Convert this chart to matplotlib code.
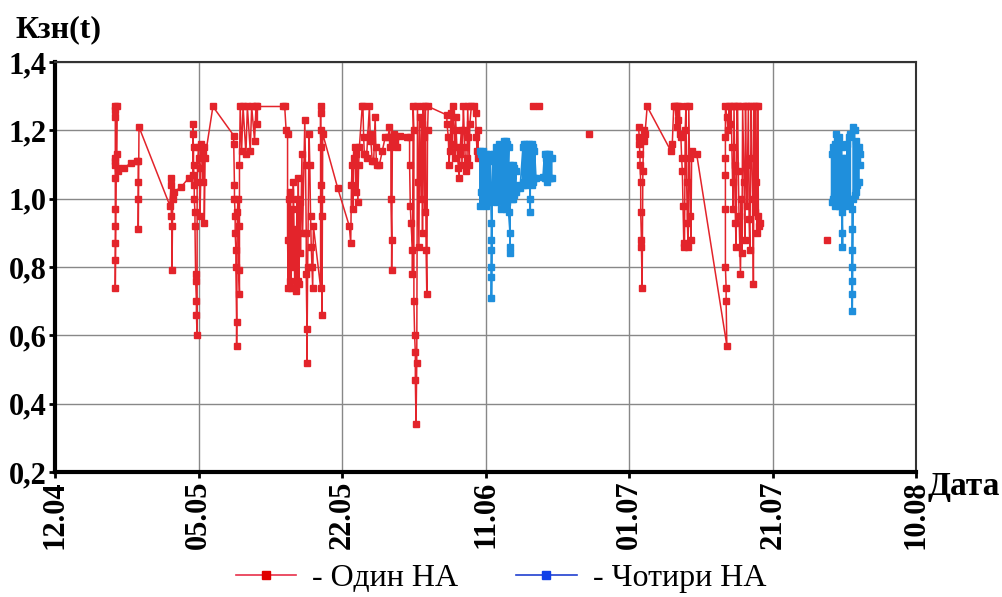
import numpy as np
import matplotlib.pyplot as plt
from matplotlib.lines import Line2D

plt.rcParams['font.family'] = ['Liberation Serif', 'DejaVu Serif']

# ----------------- data (x in tick-interval units, 0 = 12.04) -----------------
date_labels = ['12.04', '05.05', '22.05', '11.06', '01.07', '21.07', '10.08']
nan = np.nan

# один НА (one unit)
red_x = [0.42, 0.42, 0.42, 0.42, 0.42, 0.42, 0.42, 0.42, 0.42, 0.42, 0.42, 0.42,
         0.43, 0.43, 0.44, 0.44, 0.48, 0.53, 0.57,
         0.58, 0.58, 0.58, 0.58, 0.585, 0.80, 0.81, 0.81, 0.81, 0.815, 0.815, 0.82,
         0.83, 0.88, 0.93, 0.96,
         0.96, 0.96, 0.965, 0.965, 0.97, 0.97, 0.975, 0.975, 0.98, 0.98, 0.985, 0.985,
         0.99, 0.99, 1.0, 1.0, 1.01, 1.01, 1.02, 1.03, 1.03, 1.04, 1.04, 1.045,
         1.10, 1.245,
         1.245, 1.25, 1.25, 1.255, 1.255, 1.26, 1.26, 1.265, 1.265, 1.27, 1.275, 1.28,
         1.28, 1.285, 1.285, 1.29,
         1.30, 1.31, 1.33, 1.34, 1.36, 1.37, 1.39, 1.40, 1.41, 1.41, 1.59,
         1.60, 1.61, 1.62, 1.62, 1.625, 1.63, 1.635, 1.64, 1.645, 1.65, 1.66, 1.66,
         1.67, 1.675, 1.68, 1.685, 1.69, 1.695, 1.70, 1.705, 1.71, 1.72, 1.725,
         1.74, 1.745, 1.75, 1.75, 1.755, 1.755, 1.76, 1.77, 1.775, 1.78, 1.785, 1.79,
         1.795, 1.80, 1.85,
         1.85, 1.85, 1.85, 1.855, 1.855, 1.855, 1.86, 1.86, 1.865, 1.97, 2.05,
         2.06, 2.065, 2.07, 2.075, 2.08, 2.09, 2.095, 2.10, 2.11, 2.115, 2.12,
         2.14, 2.145, 2.15, 2.155, 2.16, 2.17, 2.19, 2.195, 2.20, 2.21, 2.22, 2.23,
         2.235, 2.24, 2.26, 2.28, 2.30, 2.32,
         2.33, 2.335, 2.34, 2.34, 2.345, 2.345, 2.35, 2.36, 2.37, 2.38, 2.40, 2.45,
         2.47, 2.47, 2.475, 2.48, 2.49, 2.49, 2.495, 2.50, 2.50, 2.505, 2.51, 2.51,
         2.515, 2.52, 2.525, 2.53, 2.535, 2.54, 2.55, 2.555, 2.56, 2.565, 2.57, 2.575,
         2.58, 2.585, 2.59, 2.595, 2.60, 2.73,
         2.73, 2.74, 2.745, 2.75, 2.76, 2.765, 2.77, 2.78, 2.785, 2.79, 2.80, 2.81,
         2.815, 2.82, 2.83, 2.835, 2.845, 2.85, 2.855, 2.86, 2.87, 2.875, 2.88, 2.885,
         2.89, 2.90, 2.92, 2.93, 2.935, 2.94, 2.945, 2.95,
         nan, 3.33, 3.37, nan, 3.72, nan,
         4.065, 4.07, 4.07, 4.075, 4.075, 4.08, 4.08, 4.085, 4.085, 4.09, 4.095, 4.10,
         4.105, 4.11, 4.125, 4.29, 4.30, 4.31,
         4.32, 4.33, 4.335, 4.34, 4.35, 4.355, 4.36, 4.365, 4.37, 4.375, 4.38, 4.385,
         4.39, 4.395, 4.40, 4.405, 4.41, 4.415, 4.42, 4.425, 4.43, 4.435, 4.47,
         4.68, 4.675, 4.675, 4.67, 4.67, 4.67, 4.67, 4.67, 4.67, 4.68, 4.69, 4.695,
         4.70, 4.71, 4.715, 4.72, 4.725, 4.73, 4.735, 4.74, 4.745, 4.75, 4.755, 4.76,
         4.765, 4.775, 4.78, 4.785, 4.79, 4.80, 4.805, 4.81, 4.815, 4.82, 4.83, 4.835,
         4.84, 4.85, 4.855, 4.86, 4.865, 4.87, 4.875, 4.88, 4.885, 4.89, 4.895, 4.90,
         4.905, 4.91,
         nan, 5.38]
red_y = [1.27, 1.26, 1.24, 1.12, 1.11, 1.10, 1.06, 0.97, 0.92, 0.87, 0.82, 0.74,
         1.27, 1.13, 1.09, 1.08, 1.09, 1.105, 1.11,
         1.11, 1.05, 1.00, 0.91, 1.21, 0.98, 1.06, 1.04, 0.95, 0.92, 0.79, 1.00,
         1.02, 1.035, 1.06, 1.07,
         1.22, 1.19, 1.15, 1.10, 1.04, 1.00, 0.96, 0.92, 0.78, 0.76, 0.70, 0.66,
         0.60, 1.05, 1.15, 1.12, 1.09, 0.95, 1.16, 1.13, 1.05, 1.15, 0.93, 1.12,
         1.27, 1.185,
         1.16, 1.04, 1.00, 0.95, 0.90, 0.85, 0.80, 0.64, 0.57, 0.96, 1.00, 0.92,
         0.79, 0.72, 1.10, 1.27,
         1.14, 1.27, 1.13, 1.27, 1.14, 1.27, 1.17, 1.27, 1.22, 1.27, 1.27,
         1.27, 1.20, 1.19, 0.88, 0.74, 1.00, 0.76, 1.02, 0.74, 0.97, 0.80, 1.05,
         0.74, 0.91, 0.73, 1.00, 0.76, 1.06, 0.75, 0.99, 0.84, 1.13, 0.90,
         1.23, 1.10, 0.90, 0.78, 0.62, 0.52, 0.80, 1.19, 1.10, 0.95, 0.86, 0.80,
         0.74, 0.92, 0.74,
         1.27, 1.25, 1.20, 1.15, 1.04, 1.00, 0.95, 0.66, 1.19, 1.03, 0.92,
         0.87, 1.04, 1.10, 0.97, 1.12, 1.15, 1.02, 1.13, 0.99, 1.10, 1.15,
         1.27, 1.27, 1.18, 1.13, 1.13, 1.12, 1.27, 1.19, 1.17, 1.11, 1.11, 1.24,
         1.15, 1.10, 1.10, 1.14, 1.18, 1.18,
         1.21, 1.15, 1.18, 1.00, 0.88, 0.79, 1.16, 1.19, 1.17, 1.15, 1.185, 1.18,
         1.18, 1.10, 0.98, 0.93, 0.85, 0.78, 1.27, 1.20, 0.70, 0.60, 0.55, 0.47,
         0.34, 0.52, 1.27, 1.05, 0.86, 1.24, 1.00, 1.22, 0.90, 1.27, 1.18, 0.96,
         1.27, 0.85, 0.72, 1.20, 1.27, 1.245,
         1.22, 1.18, 1.10, 1.14, 1.25, 1.16, 1.27, 1.20, 1.12, 1.24, 1.15, 1.09,
         1.06, 1.13, 1.20, 1.10, 1.27, 1.20, 1.15, 1.08, 1.12, 1.27, 1.18, 1.10,
         1.22, 1.27, 1.27, 1.25, 1.18, 1.14, 1.20, 1.12,
         nan, 1.27, 1.27, nan, 1.19, nan,
         1.21, 1.18, 1.16, 1.13, 1.10, 1.05, 0.96, 0.88, 0.86, 0.74, 1.08, 1.17,
         1.20, 1.19, 1.27, 1.14, 1.16, 1.27,
         1.27, 1.21, 1.27, 1.23, 1.27, 1.19, 1.18, 1.12, 1.08, 0.98, 0.87, 0.86,
         1.20, 1.27, 1.05, 0.93, 0.86, 1.27, 1.12, 0.95, 0.88, 1.14, 1.13,
         0.57, 0.70, 0.74, 0.80, 0.97, 1.07, 1.12, 1.18, 1.27, 1.24, 1.20, 1.27,
         1.22, 1.27, 1.15, 1.05, 0.97, 1.27, 1.10, 0.93, 0.86, 1.27, 1.27, 1.08,
         0.95, 0.78, 1.00, 0.84, 1.27, 1.05, 0.88, 1.27, 1.10, 0.98, 1.27, 0.94,
         0.85, 1.27, 1.12, 1.00, 0.75, 1.27, 0.96, 1.27, 1.05, 0.90, 1.27, 0.95,
         0.92, 0.93,
         nan, 0.88]

# чотири НА (four units)
blue_x = [2.96, 2.96, 2.97, 2.97, 2.98, 2.98, 2.99, 2.99, 3.00, 3.00, 3.01, 3.01,
          3.02, 3.02, 3.03, 3.03,
          3.04, 3.04, 3.04, 3.04, 3.04, 3.04, 3.045,
          3.05, 3.05, 3.06, 3.06, 3.07, 3.07, 3.08, 3.08, 3.09, 3.09, 3.10, 3.10,
          3.11, 3.11, 3.12, 3.12, 3.13, 3.13, 3.14, 3.14, 3.15, 3.15, 3.16, 3.16,
          3.17, 3.17, 3.17, 3.17, 3.18, 3.18, 3.19, 3.19, 3.20, 3.20, 3.21, 3.21,
          3.22, 3.22, 3.24,
          3.26, 3.26, 3.27, 3.27, 3.28, 3.28, 3.29, 3.29, 3.30, 3.30, 3.31, 3.31,
          3.31, 3.32, 3.32, 3.33, 3.33, 3.34, 3.34, 3.35, 3.40,
          3.41, 3.41, 3.42, 3.42, 3.43, 3.43, 3.44, 3.44, 3.45, 3.45, 3.46, 3.46,
          nan,
          5.41, 5.41, 5.42, 5.42, 5.43, 5.43, 5.44, 5.44, 5.45, 5.45, 5.46, 5.46,
          5.47, 5.47, 5.48, 5.48, 5.485, 5.485, 5.485, 5.49, 5.49, 5.50, 5.50,
          5.51, 5.51, 5.52, 5.52, 5.53, 5.53, 5.54, 5.54,
          5.553, 5.553, 5.553, 5.553, 5.553, 5.553, 5.553,
          5.56, 5.56, 5.57, 5.57, 5.58, 5.58, 5.59, 5.59, 5.60, 5.60, 5.61, 5.61]
blue_y = [1.14, 0.98, 1.02, 1.13, 0.99, 1.14, 1.00, 1.12, 0.98, 1.13, 1.00, 1.12,
          0.99, 1.11, 1.01, 1.13,
          0.93, 0.88, 0.85, 0.80, 0.77, 0.71, 1.00,
          1.12, 1.00, 1.13, 1.01, 1.15, 0.99, 1.14, 1.00, 1.16, 1.02, 1.00, 1.15,
          0.97, 1.14, 1.00, 1.12, 1.17, 0.99, 1.17, 0.97, 1.16, 0.99, 1.15, 0.96,
          0.90, 0.86, 0.84, 1.10, 1.09, 1.00, 1.10, 1.00, 1.09, 1.01, 1.08, 1.02,
          1.04, 1.03, 1.03,
          1.15, 1.04, 1.16, 1.05, 1.05, 1.16, 1.15, 1.04, 1.05, 1.16, 1.00, 0.96,
          1.15, 1.04, 1.16, 1.15, 1.05, 1.06, 1.14, 1.06, 1.065,
          1.13, 1.06, 1.12, 1.06, 1.13, 1.05, 1.06, 1.13, 1.12, 1.06, 1.06, 1.12,
          nan,
          1.13, 0.99, 1.15, 1.00, 0.98, 1.16, 1.19, 0.99, 1.00, 1.17, 1.18, 0.98,
          1.00, 1.16, 1.15, 0.96, 0.90, 0.86, 1.10, 1.12, 0.99, 1.00, 1.12,
          1.10, 0.98, 1.16, 1.00, 0.99, 1.18, 1.19, 1.00,
          0.97, 0.91, 0.85, 0.80, 0.76, 0.72, 0.67,
          1.00, 1.21, 1.20, 1.01, 1.02, 1.17, 1.14, 1.04, 1.05, 1.15, 1.10, 1.13]

red = '#e3242b'
blue = '#1f8fdc'

fig = plt.figure(figsize=(10.02, 5.97), dpi=100)
ax = fig.add_axes([0.0549, 0.2094, 0.8596, 0.6866])

ax.plot(red_x, red_y, color=red, lw=1.1, marker='s', ms=3.8, mec=red, mfc=red)
ax.plot(blue_x, blue_y, color=blue, lw=1.3, marker='s', ms=4.6, mec=blue, mfc=blue)

ax.set_xlim(0, 6)
ax.set_ylim(0.2, 1.4)
ax.set_xticks(range(len(date_labels)))
ax.set_xticklabels(date_labels, rotation=90)
ax.set_yticks([0.2, 0.4, 0.6, 0.8, 1.0, 1.2, 1.4])
ax.set_yticklabels(['0,2', '0,4', '0,6', '0,8', '1,0', '1,2', '1,4'])
ax.grid(True, color='#888888', lw=1.0)
ax.set_axisbelow(True)

for lab in ax.get_xticklabels() + ax.get_yticklabels():
    lab.set_fontweight('bold')
    lab.set_fontsize(22)
ax.tick_params(axis='both', length=4, width=2, color='black', pad=2)

ax.spines['left'].set_linewidth(3)
ax.spines['bottom'].set_linewidth(3)
ax.spines['top'].set_linewidth(1.5)
ax.spines['right'].set_linewidth(1.5)
ax.spines['top'].set_color('#333333')
ax.spines['right'].set_color('#333333')

fig.text(0.015, 1 - 30 / 597, 'Кзн(t)', ha='left', va='center',
         fontsize=23, fontweight='bold')
fig.text(0.926, 1 - 486 / 597, 'Дата', ha='left', va='center',
         fontsize=24, fontweight='bold')

handles = [Line2D([0], [0], color='#e8304a', lw=1.2, marker='s', ms=6,
                  mfc='#e00000', mec='#e00000'),
           Line2D([0], [0], color='#2040d0', lw=1.2, marker='s', ms=6,
                  mfc='#1040e8', mec='#1040e8')]
fig.legend(handles, ['- Один НА', '- Чотири НА'], loc='center',
           bbox_to_anchor=(0.5, 1 - 578 / 597), ncol=2, frameon=False,
           fontsize=23, handlelength=1.9, handletextpad=0.5, columnspacing=1.8)

fig.savefig('out.png', dpi=100)
